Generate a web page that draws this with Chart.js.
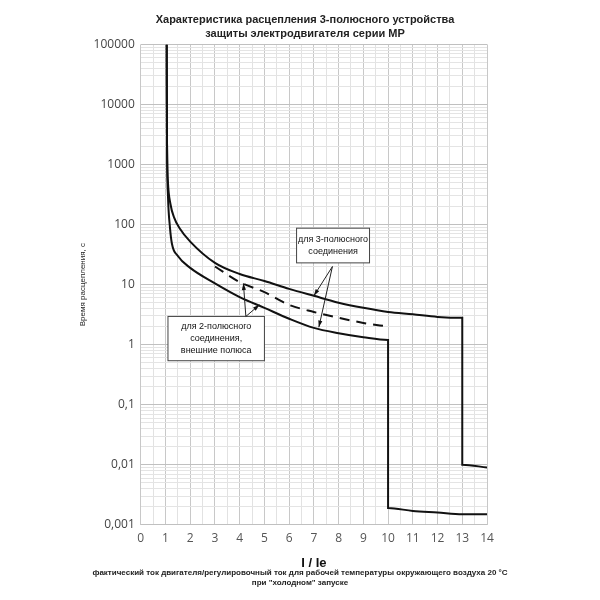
<!DOCTYPE html>
<html>
<head>
<meta charset="utf-8">
<script src="https://cdn.jsdelivr.net/npm/chart.js@4"></script>
<style>
  body { margin: 0; background: #fff; }
  #wrap { width: 600px; height: 600px; }
</style>
</head>
<body>
<div id="wrap"><canvas id="tripChart"></canvas></div>
<script>
// Trip curve data (x = I/Ie, y = seconds)
const threePoleX = [1.05, 1.06, 1.1, 1.2, 1.35, 1.57, 2, 3, 4, 5, 6, 7, 8, 9, 10, 11, 12, 13, 13, 14];
const threePoleY = [100000, 3000, 500, 220, 130, 87, 52, 23, 15, 11.5, 8.5, 6.5, 5.0, 4.1, 3.5, 3.2, 2.9, 2.8, 0.01, 0.009];
const twoPoleX = [1.05, 1.06, 1.1, 1.18, 1.26, 1.5, 2, 3, 4, 5, 6, 7, 8, 9, 10, 10, 11, 12, 13, 14];
const twoPoleY = [100000, 3000, 300, 90, 48, 30, 19, 10.5, 6.2, 4.1, 2.7, 1.9, 1.55, 1.33, 1.2, 0.0019, 0.0017, 0.0016, 0.0015, 0.0015];
const dashedX = [3, 4, 5, 6, 7, 8, 9, 10];
const dashedY = [20, 11, 7.5, 4.6, 3.5, 2.8, 2.3, 2.0];
const yLabels = { 100000: '100000', 10000: '10000', 1000: '1000', 100: '100', 10: '10', 1: '1', 0.1: '0,1', 0.01: '0,01', 0.001: '0,001' };
const titleLines = ['Характеристика расцепления 3-полюсного устройства', 'защиты электродвигателя серии МР'];
const footLines = ['фактический ток двигателя/регулировочный ток для рабочей температуры окружающего воздуха 20 °С', 'при "холодном" запуске'];

// Callout boxes (data coordinates)
const notes = [
  { lines: ['для 3-полюсного', 'соединения'], box: [6.3, 87, 9.25, 23], from: [7.75, 20], to: [[7.0, 6.5], [7.2, 1.95]] },
  { lines: ['для 2-полюсного', 'соединения,', 'внешние полюса'], box: [1.1, 2.95, 5.0, 0.54], from: [4.25, 2.95], to: [[4.15, 10.5], [4.8, 4.6]] }
];

function pts(xs, ys) { return xs.map((x, i) => ({ x: x, y: ys[i] })); }

const calloutPlugin = {
  id: 'callouts',
  afterDatasetsDraw(chart) {
    const ctx = chart.ctx, sx = chart.scales.x, sy = chart.scales.y;
    ctx.save();
    notes.forEach(n => {
      const x1 = sx.getPixelForValue(n.box[0]), y1 = sy.getPixelForValue(n.box[1]);
      const x2 = sx.getPixelForValue(n.box[2]), y2 = sy.getPixelForValue(n.box[3]);
      ctx.fillStyle = '#fff';
      ctx.fillRect(x1, y1, x2 - x1, y2 - y1);
      ctx.strokeStyle = '#444';
      ctx.lineWidth = 1;
      ctx.strokeRect(x1, y1, x2 - x1, y2 - y1);
      ctx.fillStyle = '#111';
      ctx.font = '9px "Liberation Sans", Arial, sans-serif';
      ctx.textAlign = 'center';
      ctx.textBaseline = 'middle';
      const cy = (y1 + y2) / 2, lh = 12;
      n.lines.forEach((l, i) => ctx.fillText(l, (x1 + x2) / 2, cy + (i - (n.lines.length - 1) / 2) * lh));
      const fx = sx.getPixelForValue(n.from[0]), fy = sy.getPixelForValue(n.from[1]);
      n.to.forEach(t => {
        const tx = sx.getPixelForValue(t[0]), ty = sy.getPixelForValue(t[1]);
        ctx.strokeStyle = '#222';
        ctx.beginPath(); ctx.moveTo(fx, fy); ctx.lineTo(tx, ty); ctx.stroke();
        const a = Math.atan2(ty - fy, tx - fx);
        ctx.fillStyle = '#111';
        ctx.beginPath();
        ctx.moveTo(tx, ty);
        ctx.lineTo(tx - 7 * Math.cos(a - 0.3), ty - 7 * Math.sin(a - 0.3));
        ctx.lineTo(tx - 7 * Math.cos(a + 0.3), ty - 7 * Math.sin(a + 0.3));
        ctx.closePath(); ctx.fill();
      });
    });
    ctx.restore();
  }
};

// title and footnote centred on the page, not on the padded box
const textPlugin = {
  id: 'pageText',
  afterDraw(chart) {
    const ctx = chart.ctx, cx = chart.width / 2 + 5;
    ctx.save();
    ctx.fillStyle = '#222';
    ctx.textAlign = 'center';
    ctx.textBaseline = 'middle';
    ctx.font = 'bold 11px "Liberation Sans", Arial, sans-serif';
    titleLines.forEach((l, i) => ctx.fillText(l, cx, 20 + i * 14));
    ctx.font = 'bold 8px "Liberation Sans", Arial, sans-serif';
    footLines.forEach((l, i) => ctx.fillText(l, cx - 5, 573 + i * 10));
    ctx.restore();
  }
};

const base = { borderColor: '#111', borderWidth: 2, pointRadius: 0, fill: false, cubicInterpolationMode: 'monotone' };

new Chart(document.getElementById('tripChart'), {
  type: 'line',
  data: {
    datasets: [
      Object.assign({ label: '3-pole', data: pts(threePoleX, threePoleY) }, base),
      Object.assign({ label: '2-pole', data: pts(twoPoleX, twoPoleY) }, base),
      Object.assign({ label: 'dashed', data: pts(dashedX, dashedY), borderDash: [10, 7] }, base)
    ]
  },
  options: {
    responsive: true,
    maintainAspectRatio: false,
    animation: false,
    layout: { padding: { left: 78, right: 113, top: 0, bottom: 0 } },
    plugins: {
      legend: { display: false },
      tooltip: { enabled: false },
      title: {
        display: true,
        text: titleLines,
        color: 'rgba(0,0,0,0)',
        font: { family: '"Liberation Sans", Arial, sans-serif', size: 11, weight: 'bold' },
        padding: { top: 12, bottom: 6 }
      },
      subtitle: {
        display: true,
        position: 'bottom',
        text: footLines,
        color: 'rgba(0,0,0,0)',
        font: { family: '"Liberation Sans", Arial, sans-serif', size: 8, weight: 'bold' },
        padding: { top: 0, bottom: 10 }
      }
    },
    scales: {
      x: {
        type: 'linear', min: 0, max: 14,
        ticks: {
          stepSize: 0.5,
          padding: 7,
          color: '#555',
          font: { family: '"Open Sans", sans-serif', size: 12 },
          autoSkip: false, maxRotation: 0,
          callback: v => Number.isInteger(v) ? String(v) : ''
        },
        grid: { color: ctx => Number.isInteger(ctx.tick.value) ? '#c8c8c8' : '#e2e2e2', drawTicks: false },
        border: { display: false },
        title: { display: true, text: 'I / Ie', color: '#111', font: { family: '"Liberation Sans", Arial, sans-serif', size: 13, weight: 'bold' }, padding: { top: 2, bottom: 0 } }
      },
      y: {
        type: 'logarithmic', min: 0.001, max: 100000,
        afterBuildTicks: axis => {
          const t = [];
          for (let e = -3; e <= 5; e++) for (let m = 1; m <= 9; m++) {
            const v = +(m * Math.pow(10, e)).toPrecision(3);
            if (v <= 100000) t.push({ value: v });
          }
          axis.ticks = t;
        },
        ticks: {
          autoSkip: false,
          padding: 6,
          color: '#444',
          font: { family: '"Open Sans", sans-serif', size: 12 },
          callback: v => yLabels[v] || ''
        },
        grid: { color: ctx => yLabels[ctx.tick.value] ? '#c0c0c0' : '#e4e4e4', drawTicks: false },
        border: { display: false },
        title: { display: true, text: 'Время расцепления, с', color: '#222', font: { family: '"Liberation Sans", Arial, sans-serif', size: 8 }, padding: { top: 0, bottom: 0 } }
      }
    }
  },
  plugins: [calloutPlugin, textPlugin]
});
</script>
</body>
</html>
